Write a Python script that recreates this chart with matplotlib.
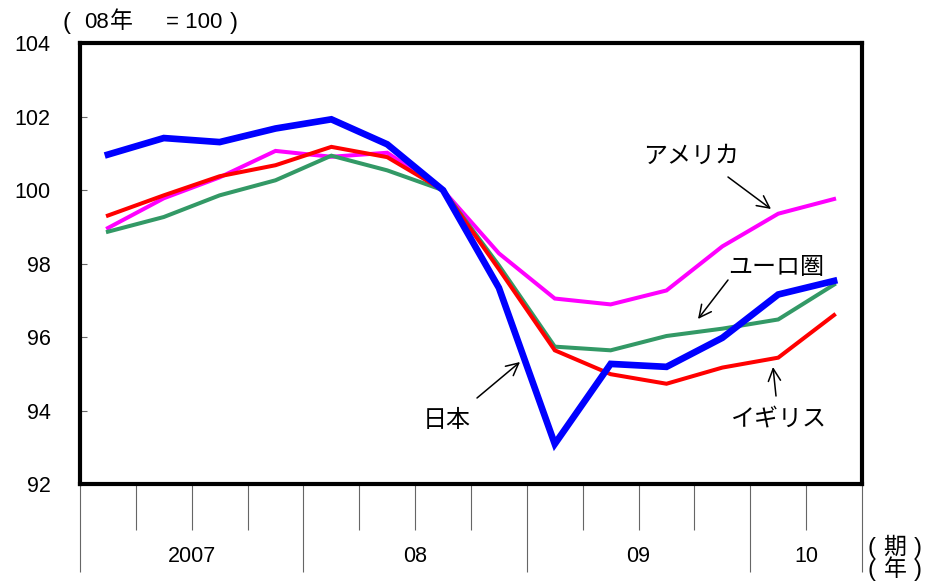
import matplotlib
matplotlib.use("Agg")
import matplotlib.pyplot as plt
from matplotlib.transforms import blended_transform_factory
import numpy as np

quarters = ["2007Q1", "2007Q2", "2007Q3", "2007Q4",
            "2008Q1", "2008Q2", "2008Q3", "2008Q4",
            "2009Q1", "2009Q2", "2009Q3", "2009Q4",
            "2010Q1", "2010Q2"]
year_labels = ["2007", "08", "09", "10"]
year_quarter_counts = [4, 4, 4, 2]

japan = [100.97, 101.42, 101.31, 101.68, 101.93, 101.25, 100.0, 97.34,
         93.09, 95.27, 95.19, 95.98, 97.16, 97.53]
usa = [98.97, 99.78, 100.35, 101.07, 100.91, 101.02, 100.0, 98.28,
       97.05, 96.89, 97.27, 98.47, 99.36, 99.76]
euro = [98.87, 99.27, 99.86, 100.27, 100.94, 100.54, 100.0, 97.95,
        95.74, 95.64, 96.03, 96.23, 96.48, 97.43]
uk = [99.31, 99.86, 100.38, 100.68, 101.18, 100.90, 100.0, 97.85,
      95.64, 94.99, 94.73, 95.17, 95.44, 96.60]

y_ticks = [92, 94, 96, 98, 100, 102, 104]

JP = ["Liberation Sans", "Noto Sans CJK JP", "DejaVu Sans"]
CJK = ["Noto Sans CJK JP", "DejaVu Sans"]
plt.rcParams["font.family"] = JP

fig = plt.figure(figsize=(9.3, 5.86), dpi=100)
ax = fig.add_axes([80 / 930, 1 - 484 / 586, (862 - 80) / 930, (484 - 43.3) / 586])

x = np.arange(len(quarters)) + 0.5
ax.plot(x, usa, color="#FF00FF", lw=2.9, solid_joinstyle="miter", zorder=3)
ax.plot(x, euro, color="#339966", lw=2.9, solid_joinstyle="miter", zorder=3)
ax.plot(x, uk, color="#FF0000", lw=2.9, solid_joinstyle="miter", zorder=4)
ax.plot(x, japan, color="#0000FF", lw=4.8, solid_joinstyle="miter", zorder=5)

ax.set_xlim(0, len(quarters))
ax.set_ylim(92, 104)

for s in ax.spines.values():
    s.set_linewidth(3.0)
    s.set_color("black")

ax.set_yticks(y_ticks)
ax.set_yticklabels([str(v) for v in y_ticks])
ax.tick_params(axis="y", direction="in", length=5, width=0.8, color="#666666",
               labelsize=15.5, pad=21)

# x ticks: year boundaries long, quarters short
bounds = np.concatenate([[0], np.cumsum(year_quarter_counts)])
ax.set_xticks(bounds)
ax.set_xticklabels([])
ax.set_xticks([q for q in range(len(quarters) + 1) if q not in bounds], minor=True)
ax.tick_params(axis="x", which="major", direction="out", length=63, width=0.8,
               color="#666666")
ax.tick_params(axis="x", which="minor", direction="out", length=33, width=0.8,
               color="#666666")

trans = blended_transform_factory(ax.transData, ax.transAxes)
for i, lab in enumerate(year_labels):
    cx = (bounds[i] + bounds[i + 1]) / 2
    ax.text(cx, -0.165, lab, transform=trans, ha="center", va="center",
            fontsize=15.5)

def ftext(px, py, s, ha="left", size=15.5, fam=JP):
    fig.text(px / 930, 1 - py / 586, s, ha=ha, va="center", fontsize=size,
             family=fam)

# unit label
ftext(62, 23, "(", size=17)
ftext(84, 23, "08", size=16)
ftext(121, 22, "年", ha="center", size=16.5, fam=CJK)
ftext(166, 23, "= 100", size=16)
ftext(230, 23, ")", size=17)

# axis end labels
for py, ch in [(548, "期"), (570, "年")]:
    ftext(867, py, "(", size=17)
    ftext(895, py - 1, ch, ha="center", size=16.5, fam=CJK)
    ftext(914, py, ")", size=17)

# annotations (pixel positions converted to data coords)
def px2data(px, py):
    return ((px - 80) / ((862 - 80) / len(quarters)),
            104 - (py - 43.3) / ((484 - 43.3) / 12))

labels = [
    ("アメリカ", (691, 156), (728, 177), (771, 209)),
    ("ユーロ圏", (776, 267), (728, 280), (698, 319)),
    ("日本", (447, 420), (477, 398), (520, 362)),
    ("イギリス", (779, 418), (776, 396), (773, 367)),
]
for text, tpos, a0, a1 in labels:
    tx, ty = px2data(*tpos)
    ax.text(tx, ty, text, ha="center", va="center", fontsize=17.3,
            family=CJK, zorder=6)
    ax.annotate("", xy=px2data(*a1), xytext=px2data(*a0),
                arrowprops=dict(arrowstyle="->", lw=1.1, color="black",
                                mutation_scale=22, shrinkA=0, shrinkB=0),
                zorder=6)

fig.savefig("out.png", dpi=100)
